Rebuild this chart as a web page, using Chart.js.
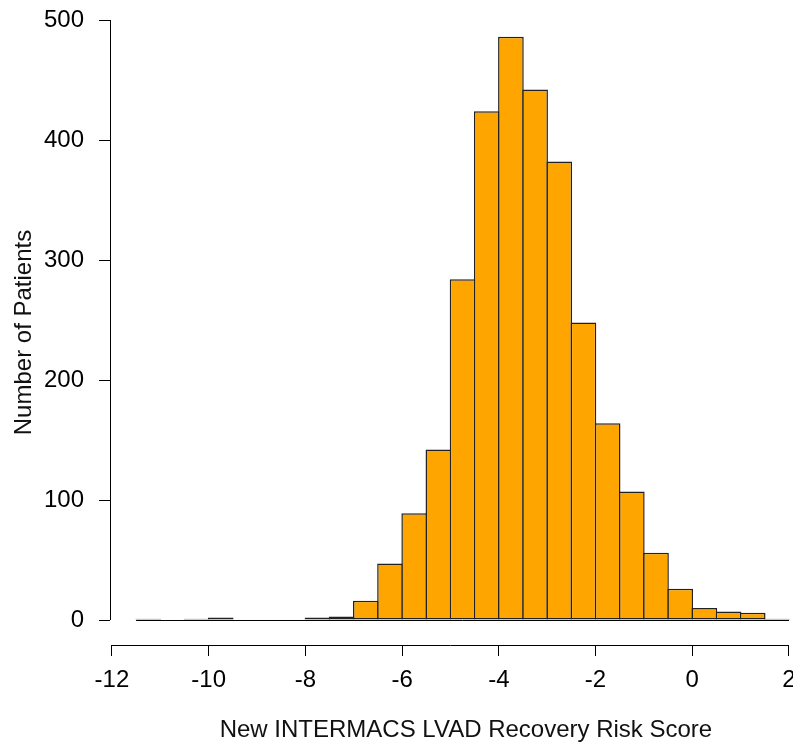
<!DOCTYPE html>
<html>
<head>
<meta charset="utf-8">
<script src="https://cdn.jsdelivr.net/npm/chart.js@4/dist/chart.umd.min.js"></script>
<style>
  body { margin: 0; background: #fff; }
  canvas { display: block; }
</style>
</head>
<body>
<canvas id="histChart" width="793" height="745"></canvas>
<script>
// bin centres (bin width 0.5, from -11.5 to 2)
const binCenters = [-11.25, -10.75, -10.25, -9.75, -9.25, -8.75, -8.25, -7.75, -7.25,
  -6.75, -6.25, -5.75, -5.25, -4.75, -4.25, -3.75, -3.25, -2.75, -2.25,
  -1.75, -1.25, -0.75, -0.25, 0.25, 0.75, 1.25, 1.75];
// number of patients per bin
const patientCounts = [1, 0, 1, 2, 0, 0, 0, 2, 3,
  16, 47, 89, 142, 284, 424, 486, 442, 382, 248,
  164, 107, 56, 26, 10, 7, 6, 1];
const xTickValues = [-12, -10, -8, -6, -4, -2, 0, 2];
const yTickValues = [0, 100, 200, 300, 400, 500];
const binRange = [-11.5, 2];
// R plot region (usr) in x, used to centre the x title like R does
const plotRange = [-12.04, 2.68];
const xTitle = 'New INTERMACS LVAD Recovery Risk Score';

const fontFamily = '"Liberation Sans", Arial, sans-serif';
const fontSize = 24;

// R style axes: lines only span the tick range, baseline under the bins
const rAxes = {
  id: 'rAxes',
  afterDatasetsDraw(chart) {
    const { ctx, scales: { x, y } } = chart;
    ctx.save();
    ctx.strokeStyle = '#000';
    ctx.lineWidth = 1;
    ctx.beginPath();
    // y axis line
    const ax = Math.round(chart.chartArea.left) + 0.5;
    ctx.moveTo(ax, y.getPixelForValue(yTickValues[0]));
    ctx.lineTo(ax, y.getPixelForValue(yTickValues[yTickValues.length - 1]));
    // x axis line
    const ay = Math.round(chart.chartArea.bottom) + 0.5;
    ctx.moveTo(x.getPixelForValue(xTickValues[0]), ay);
    ctx.lineTo(x.getPixelForValue(xTickValues[xTickValues.length - 1]), ay);
    // histogram baseline (empty bins)
    const by = Math.round(y.getPixelForValue(0)) + 0.5;
    ctx.moveTo(x.getPixelForValue(binRange[0]), by);
    ctx.lineTo(x.getPixelForValue(binRange[1]), by);
    ctx.stroke();

    // x axis title
    const cx = (x.getPixelForValue(plotRange[0]) + x.getPixelForValue(plotRange[1])) / 2;
    ctx.fillStyle = '#111';
    ctx.font = fontSize + 'px ' + fontFamily;
    ctx.textAlign = 'center';
    ctx.textBaseline = 'middle';
    ctx.fillText(xTitle, cx, x.bottom - fontSize * 0.6);
    ctx.restore();
  }
};

const ctx = document.getElementById('histChart').getContext('2d');
new Chart(ctx, {
  type: 'bar',
  data: {
    datasets: [{
      data: binCenters.map((c, i) => ({ x: c, y: patientCounts[i] })),
      backgroundColor: '#FFA500',
      borderColor: '#222',
      borderWidth: 1.5,
      borderSkipped: false,
      categoryPercentage: 1,
      barPercentage: 1.062
    }]
  },
  options: {
    responsive: false,
    animation: false,
    layout: { padding: { top: 20, right: 0, bottom: 0, left: 0 } },
    plugins: {
      legend: { display: false },
      tooltip: { enabled: false }
    },
    scales: {
      x: {
        type: 'linear',
        offset: false,
        min: -12.04,
        max: 2.083,
        afterBuildTicks: s => { s.ticks = xTickValues.map(v => ({ value: v })); },
        afterFit: s => { s.height = 100; s.paddingLeft = 0; s.paddingRight = 0; },
        grid: { display: true, offset: false, drawOnChartArea: false, tickLength: 11, tickColor: '#000', lineWidth: 1 },
        border: { display: false },
        ticks: {
          padding: 10,
          color: '#000',
          maxRotation: 0,
          font: { family: fontFamily, size: fontSize },
          callback: v => v
        }
      },
      y: {
        min: -20.833,
        max: 500,
        afterBuildTicks: s => { s.ticks = yTickValues.map(v => ({ value: v })); },
        afterFit: s => { s.width = 110; s.paddingTop = 0; s.paddingBottom = 0; },
        grid: { display: true, drawOnChartArea: false, tickLength: 11, tickColor: '#000', lineWidth: 1 },
        border: { display: false },
        ticks: {
          padding: 15,
          color: '#000',
          font: { family: fontFamily, size: fontSize }
        },
        title: {
          display: true,
          text: 'Number of Patients',
          color: '#111',
          font: { family: fontFamily, size: fontSize },
          padding: { top: 10, bottom: 0 }
        }
      }
    }
  },
  plugins: [rAxes]
});
</script>
</body>
</html>
